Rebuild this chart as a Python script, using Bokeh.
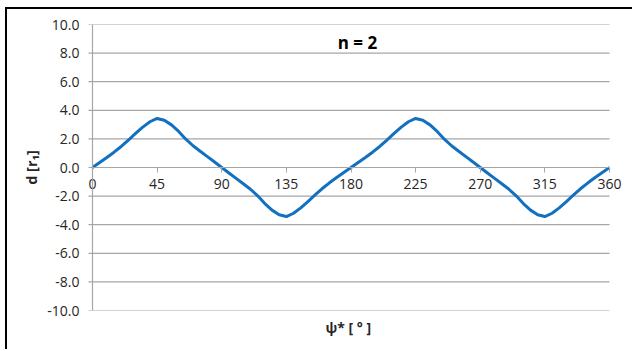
from bokeh.plotting import figure
from bokeh.models import (Range1d, FixedTicker, NumeralTickFormatter, LinearAxis,
                          Label, Title, Span, ColumnDataSource)
from bokeh.embed import file_html
from bokeh.resources import INLINE

# Displacement d (in units of r1) versus angle psi* for n = 2
psi_deg = list(range(0, 365, 5))
d_r1 = [
    0.00, 0.35, 0.70, 1.07, 1.47, 1.92, 2.38, 2.82, 3.20,
    3.43,
    3.30, 2.98, 2.52, 1.98, 1.52, 1.14, 0.76, 0.38, 0.00,
    -0.38, -0.76, -1.14, -1.52, -1.98, -2.52, -2.98, -3.30,
    -3.43,
    -3.20, -2.82, -2.38, -1.92, -1.47, -1.07, -0.70, -0.35, 0.00,
    0.35, 0.70, 1.07, 1.47, 1.92, 2.38, 2.82, 3.20,
    3.43,
    3.30, 2.98, 2.52, 1.98, 1.52, 1.14, 0.76, 0.38, 0.00,
    -0.38, -0.76, -1.14, -1.52, -1.98, -2.52, -2.98, -3.30,
    -3.43,
    -3.20, -2.82, -2.38, -1.92, -1.47, -1.07, -0.70, -0.35, 0.00,
]
x_ticks = [0, 45, 90, 135, 180, 225, 270, 315, 360]
y_ticks = [-10, -8, -6, -4, -2, 0, 2, 4, 6, 8, 10]

FONT = "Open Sans"
TEXT = "#262626"
GRID = "#a6a6a6"

X_MIN, X_MAX = x_ticks[0], x_ticks[-1]
Y_MIN, Y_MAX = y_ticks[0], y_ticks[-1]

# the frame is a little wider than the 0..360 plot area so that the
# end labels of the angle axis have room
PX_PER_DEG = 517 / (X_MAX - X_MIN)
pad_left = 7 / PX_PER_DEG
pad_right = 17 / PX_PER_DEG
tick_len = 4 / PX_PER_DEG

source = ColumnDataSource(data=dict(psi=psi_deg, d=d_r1))
grid_source = ColumnDataSource(data=dict(y=y_ticks))

p = figure(width=627, height=342, output_backend="svg", toolbar_location=None,
           x_range=Range1d(X_MIN - pad_left, X_MAX + pad_right),
           y_range=Range1d(Y_MIN, Y_MAX),
           x_axis_location=None, y_axis_location="left",
           min_border_left=78, min_border_right=8,
           min_border_top=15, min_border_bottom=41)
p.styles = {"margin-left": "5px", "margin-top": "7px",
            "border-left": "2px solid #000", "border-top": "2px solid #000"}
p.outline_line_color = None
p.background_fill_color = "white"
p.border_fill_color = "white"
p.xgrid.visible = False
p.ygrid.visible = False

# horizontal gridlines (running a few pixels past the axis as tick marks)
p.segment(x0=X_MIN - tick_len, x1=X_MAX, y0="y", y1="y", source=grid_source,
          line_color=GRID, line_width=1.2)

# vertical axis line at psi* = 0
p.add_layout(Span(location=X_MIN, dimension="height", line_color=GRID,
                  line_width=1.2))

# value labels and title of the vertical axis
yax = p.yaxis[0]
yax.ticker = FixedTicker(ticks=y_ticks)
yax.formatter = NumeralTickFormatter(format="0.0")
yax.axis_line_color = None
yax.major_tick_line_color = None
yax.major_tick_out = 0
yax.major_tick_in = 0
yax.minor_tick_line_color = None
yax.major_label_text_font = FONT
yax.major_label_text_font_size = "14px"
yax.major_label_text_color = TEXT
yax.major_label_standoff = 6
yax.axis_label = "d [r\u2081]"
yax.axis_label_text_font = FONT
yax.axis_label_text_font_size = "14.5px"
yax.axis_label_text_font_style = "bold"
yax.axis_label_text_color = TEXT
yax.axis_label_standoff = 3

# horizontal axis crossing at d = 0
xax = LinearAxis(fixed_location=0, ticker=FixedTicker(ticks=x_ticks),
                 bounds=(X_MIN, X_MAX))
xax.axis_line_color = GRID
xax.major_tick_line_color = GRID
xax.major_tick_out = 5
xax.major_tick_in = 0
xax.minor_tick_line_color = None
xax.major_label_text_font = FONT
xax.major_label_text_font_size = "14px"
xax.major_label_text_color = TEXT
xax.major_label_standoff = 6
p.add_layout(xax, "below")

p.add_layout(Title(text="\u03c8* [ \u00b0 ]", align="left", text_font=FONT,
                   text_font_size="14px", text_font_style="bold",
                   text_color=TEXT, offset=240), "below")

p.line("psi", "d", source=source, line_color="#1170c0", line_width=3,
       line_join="round")

p.add_layout(Label(x=184.5, y=8.75, text="n = 2", text_align="center",
                   text_baseline="middle", text_font=FONT,
                   text_font_size="17px", text_font_style="bold",
                   text_color="#000000"))

open("out.html", "w").write(file_html(p, INLINE))
